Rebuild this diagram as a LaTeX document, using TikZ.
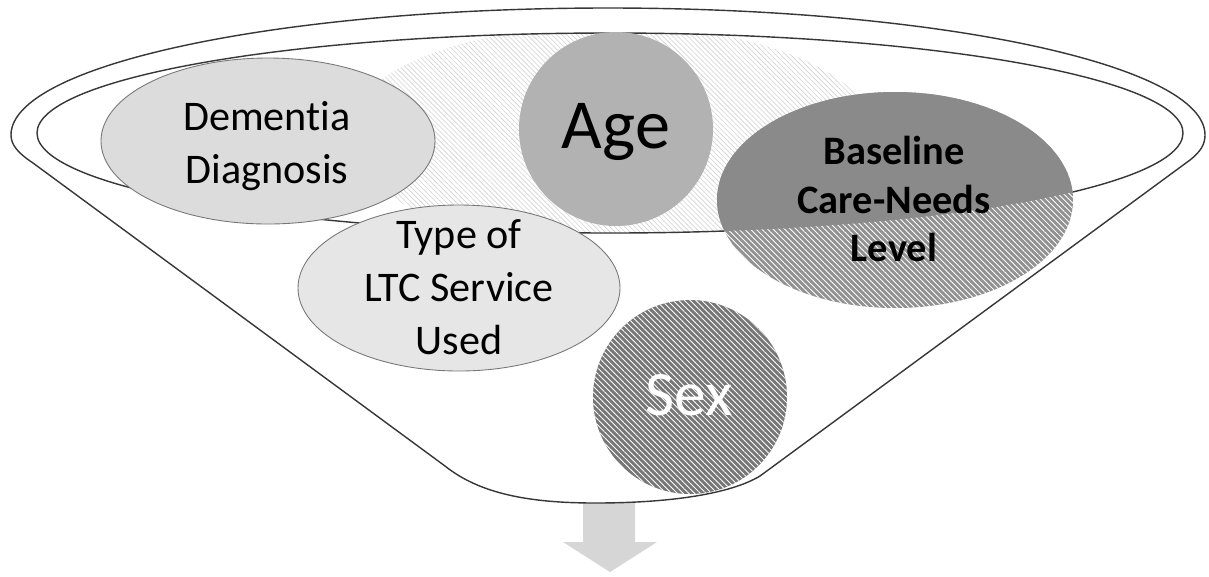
\documentclass[tikz,border=0pt]{standalone}
\usepackage{fontspec}
\setmainfont{Carlito}[Ligatures=NoCommon]
\usepackage{tikz}
\usetikzlibrary{patterns.meta}
\definecolor{FunnelEdge}{RGB}{55, 55, 55}
\definecolor{BubbleEdge}{RGB}{120, 120, 120}
\definecolor{DementiaFill}{RGB}{220, 220, 220}
\definecolor{ServiceFill}{RGB}{230, 230, 230}
\definecolor{AgeFill}{RGB}{178, 178, 178}
\definecolor{CareDark}{RGB}{138, 138, 138}
\definecolor{CareLight}{RGB}{145, 145, 145}
\definecolor{SexFill}{RGB}{118, 118, 118}
\definecolor{ArrowFill}{RGB}{214, 214, 214}

\begin{document}
\begin{tikzpicture}[x=0.02cm, y=-0.02cm,
    rimline/.style={draw=FunnelEdge, line width=0.8pt},
    bubble/.style={draw=BubbleEdge, line width=0.5pt},
    stripes/.style={pattern={Lines[angle=-45,distance=2.3pt,line width=0.5pt]}, pattern color=white},
    bubbletext/.style={font=\fontsize{24}{30}\selectfont, align=center}]
    \useasboundingbox (0,0) rectangle (1209,576);

    % Arrow out of the funnel
    \fill[ArrowFill] (583,500) -- (635,500) -- (635,542) -- (657,542) -- (610,572) -- (563,542) -- (583,542) -- cycle;

    % Funnel body
    \filldraw[fill=white, rimline] (1205,135) arc[start angle=0, end angle=-180, x radius=597, y radius=127]
        .. controls (11,145) and (18,153) .. (33,163) -- (445,466)
        .. controls (480,494) and (530,503) .. (595,503)
        .. controls (670,503) and (730,494) .. (760,476) -- (1190,160)
        .. controls (1200,152) and (1205,145) .. (1205,135) -- cycle;

    % Light hatch inside the rim
    \begin{scope}
        \clip (610,133) ellipse[x radius=573, y radius=100];
        \fill[pattern={Lines[angle=-45,distance=2pt,line width=0.35pt]}, pattern color=gray!35] (610,135) ellipse[x radius=265, y radius=110];
    \end{scope}

    % Inner rim
    \draw[rimline] (610,133) ellipse[x radius=573, y radius=100];

    % Dementia
    \filldraw[fill=DementiaFill, bubble] (268,141) ellipse[x radius=167, y radius=83];
    \node[bubbletext] (dementia) at (267,146) {Dementia\\Diagnosis};

    % Age
    \fill[AgeFill] (616,129) circle[radius=97];
    \node[font=\fontsize{40}{48}\selectfont, anchor=base] (age) at (616,148) {Age};

    % Type of service
    \filldraw[fill=ServiceFill, bubble] (459,288) ellipse[x radius=161, y radius=83];
    \node[bubbletext] (ltc) at (459,287) {Type of\\LTC Service\\Used};

    % Baseline care needs, dark where it sits in the rim
    \fill[CareLight] (895,200) ellipse[x radius=178, y radius=108];
    \fill[stripes] (895,200) ellipse[x radius=178, y radius=108];
    \begin{scope}
        \clip (610,133) ellipse[x radius=573, y radius=100];
        \fill[CareDark] (895,200) ellipse[x radius=178, y radius=108];
    \end{scope}
    \node[font=\bfseries\fontsize{23}{27.6}\selectfont, align=center] (care) at (894,199) {Baseline\\Care-Needs\\Level};

    % Sex
    \fill[SexFill] (690,397) circle[radius=97];
    \fill[stripes] (690,397) circle[radius=97];
    \node[font=\fontsize{36}{43}\selectfont, text=white, anchor=base] (sex) at (689,415) {Sex};
\end{tikzpicture}
\end{document}
